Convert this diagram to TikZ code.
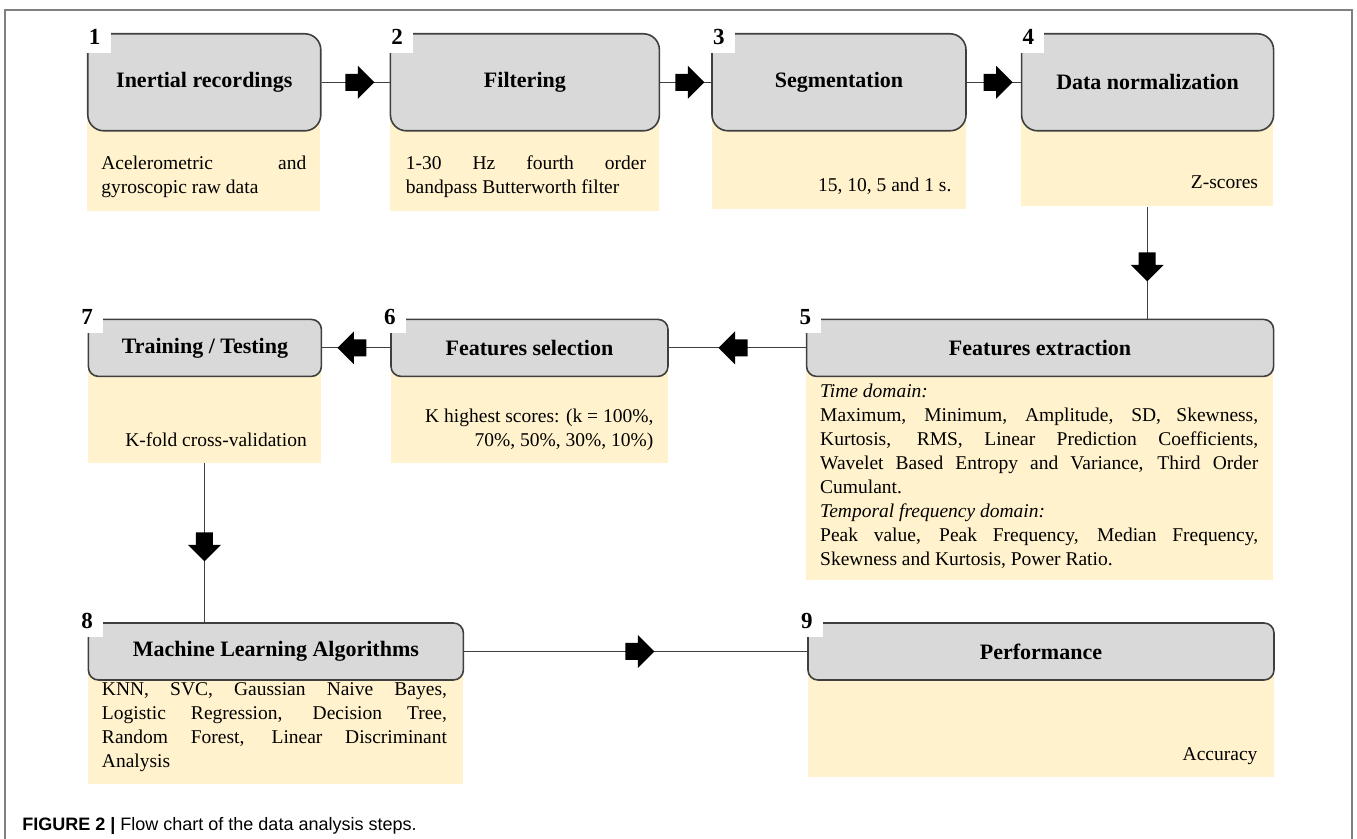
\documentclass[tikz,border=0pt]{standalone}
\usepackage{fontspec}
\setmainfont{Liberation Serif}
\setsansfont{Liberation Sans}
\usetikzlibrary{shapes,arrows,positioning,backgrounds}
\definecolor{stepgrey}{HTML}{D9D9D9}
\definecolor{notefill}{HTML}{FFF2CC}
\definecolor{edgegrey}{HTML}{3F3F3F}
\definecolor{framegrey}{HTML}{808080}
\tikzstyle{stepbox} = [rectangle, draw=edgegrey, fill=stepgrey, line width=0.8pt,
    rounded corners=5pt, minimum height=28.5pt, inner sep=0pt,
    font=\fontsize{11}{13}\selectfont\bfseries]
\tikzstyle{topbox} = [stepbox, rounded corners=8pt, minimum height=48.5pt]
\tikzstyle{detail} = [rectangle, fill=notefill, inner sep=0pt, anchor=north west]
\tikzstyle{tab} = [rectangle, fill=white, inner sep=0pt, minimum width=16pt,
    minimum height=16pt, anchor=south east, font=\fontsize{11.5}{13}\selectfont\bfseries]
\tikzstyle{note} = [inner sep=0pt, font=\fontsize{9.75}{12}\selectfont]
\tikzstyle{line} = [draw=edgegrey, line width=0.5pt]
\tikzstyle{blockarrow} = [single arrow, fill=black, inner sep=4pt,
    minimum height=14.5pt, minimum width=16pt, single arrow head extend=4pt]
% a justified line of a note, #1 = width of the note
\newcommand{\fillline}[2]{\makebox[#1][s]{#2}}

\begin{document}
\begin{tikzpicture}
    \useasboundingbox (-43.5pt,16.5pt) rectangle (635pt,-403pt);
    % Place nodes
    \node [topbox, minimum width=116.5pt, anchor=north west] (st1) at (0,0) {Inertial recordings};
    \node [topbox, minimum width=134.5pt, right=34pt of st1] (st2) {Filtering};
    \node [topbox, minimum width=127pt, right=25.5pt of st2] (st3) {Segmentation};
    \node [topbox, minimum width=126pt, right=27pt of st3] (st4) {Data normalization};
    \node [stepbox, minimum width=233.5pt, below=93.5pt of st4.south east, anchor=north east] (st5) {Features extraction};
    \node [stepbox, minimum width=138.5pt, left=68.5pt of st5] (st6) {Features selection};
    \node [stepbox, minimum width=116.5pt, left=34pt of st6] (st7) {Training / Testing};
    \node [stepbox, minimum width=187.5pt, below=122.5pt of st7.south west, anchor=north west] (st8) {Machine Learning Algorithms};
    \node [stepbox, minimum width=233pt, right=171.5pt of st8] (st9) {Performance};
    % Number tabs
    \node [tab] (n1) at ([shift={(12pt,-10pt)}]st1.north west) {1};
    \node [tab] (n2) at ([shift={(12pt,-10pt)}]st2.north west) {2};
    \node [tab] (n3) at ([shift={(12pt,-10pt)}]st3.north west) {3};
    \node [tab] (n4) at ([shift={(12pt,-10pt)}]st4.north west) {4};
    \node [tab] (n5) at ([shift={(8pt,-7.5pt)}]st5.north west) {5};
    \node [tab] (n6) at ([shift={(8pt,-7.5pt)}]st6.north west) {6};
    \node [tab] (n7) at ([shift={(8pt,-7.5pt)}]st7.north west) {7};
    \node [tab] (n8) at ([shift={(8pt,-7.5pt)}]st8.north west) {8};
    \node [tab] (n9) at ([shift={(8pt,-7.5pt)}]st9.north west) {9};
    % Yellow notes behind the boxes
    \begin{pgfonlayer}{background}
      \node [detail, minimum width=116.5pt, minimum height=64.25pt] (d1) at (st1.west) {};
      \node [detail, minimum width=134.5pt, minimum height=64.25pt] (d2) at (st2.west) {};
      \node [detail, minimum width=127pt, minimum height=63.25pt] (d3) at (st3.west) {};
      \node [detail, minimum width=126pt, minimum height=61.75pt] (d4) at (st4.west) {};
      \node [detail, minimum width=233.5pt, minimum height=115.75pt] (d5) at (st5.west) {};
      \node [detail, minimum width=138.5pt, minimum height=57.25pt] (d6) at (st6.west) {};
      \node [detail, minimum width=116.5pt, minimum height=57.25pt] (d7) at (st7.west) {};
      \node [detail, minimum width=187.5pt, minimum height=66.25pt] (d8) at (st8.west) {};
      \node [detail, minimum width=233pt, minimum height=62.75pt] (d9) at (st9.west) {};
    \end{pgfonlayer}
    % Note texts
    \node [note, align=left, anchor=north west] (t1) at ([shift={(7pt,-12pt)}]st1.south west)
        {\fillline{102.5pt}{Acelerometric and}\\ gyroscopic raw data};
    \node [note, align=left, anchor=north west] (t2) at ([shift={(8pt,-12pt)}]st2.south west)
        {\fillline{120pt}{1-30 Hz fourth order}\\ bandpass Butterworth filter};
    \node [note, anchor=north east] (t3) at ([shift={(-7.5pt,-23pt)}]st3.south east) {15, 10, 5 and 1 s.};
    \node [note, anchor=north east] (t4) at ([shift={(-8pt,-22pt)}]st4.south east) {Z-scores};
    \node [note, align=left, anchor=north west] (t5) at ([shift={(7pt,-3pt)}]st5.south west)
        {\textit{Time domain:}\\
         \fillline{219pt}{Maximum, Minimum, Amplitude, SD, Skewness,}\\
         \fillline{219pt}{Kurtosis, RMS, Linear Prediction Coefficients,}\\
         \fillline{219pt}{Wavelet Based Entropy and Variance, Third Order}\\
         Cumulant.\\
         \textit{Temporal frequency domain:}\\
         \fillline{219pt}{Peak value, Peak Frequency, Median Frequency,}\\
         Skewness and Kurtosis, Power Ratio.};
    \node [note, align=right, anchor=north east] (t6) at ([shift={(-7.5pt,-15.5pt)}]st6.south east)
        {K highest scores: (k = 100\%,\\ 70\%, 50\%, 30\%, 10\%)};
    \node [note, anchor=north east] (t7) at ([shift={(-7.5pt,-27.5pt)}]st7.south east) {K-fold cross-validation};
    \node [note, align=left, anchor=north west] (t8) at ([shift={(7pt,-0.5pt)}]st8.south west)
        {\fillline{172.5pt}{KNN, SVC, Gaussian Naive Bayes,}\\
         \fillline{172.5pt}{Logistic Regression, Decision Tree,}\\
         \fillline{172.5pt}{Random Forest, Linear Discriminant}\\
         Analysis};
    \node [note, anchor=north east] (t9) at ([shift={(-8.5pt,-33pt)}]st9.south east) {Accuracy};
    % Draw edges
    \path [line] (st1) -- node [blockarrow] (a12) {} (st2);
    \path [line] (st2) -- node [blockarrow] (a23) {} (st3);
    \path [line] (st3) -- node [blockarrow] (a34) {} (st4);
    \path [line] (d4.south) -- node [blockarrow, shape border rotate=270] (a45) {} (d4.south |- st5.north);
    \path [line] (st5.west) -- node [blockarrow, shape border rotate=180] (a56) {} (st5.west -| st6.east);
    \path [line] (st6) -- node [blockarrow, shape border rotate=180] (a67) {} (st7);
    \path [line] (d7.south) -- node [blockarrow, shape border rotate=270] (a78) {} (d7.south |- st8.north);
    \path [line] (st8) -- node [blockarrow] (a89) {} (st9);
    % Frame and caption
    \draw [framegrey, line width=0.8pt] (-41pt,-403pt) -- (-41pt,11.5pt) -- (632.5pt,11.5pt) -- (632.5pt,-403pt);
    \node [anchor=base west, inner sep=0pt, font=\sffamily\fontsize{9}{11}\selectfont] (cap) at (-32.5pt,-399pt)
        {\textbf{FIGURE 2 |} Flow chart of the data analysis steps.};
\end{tikzpicture}
\end{document}
